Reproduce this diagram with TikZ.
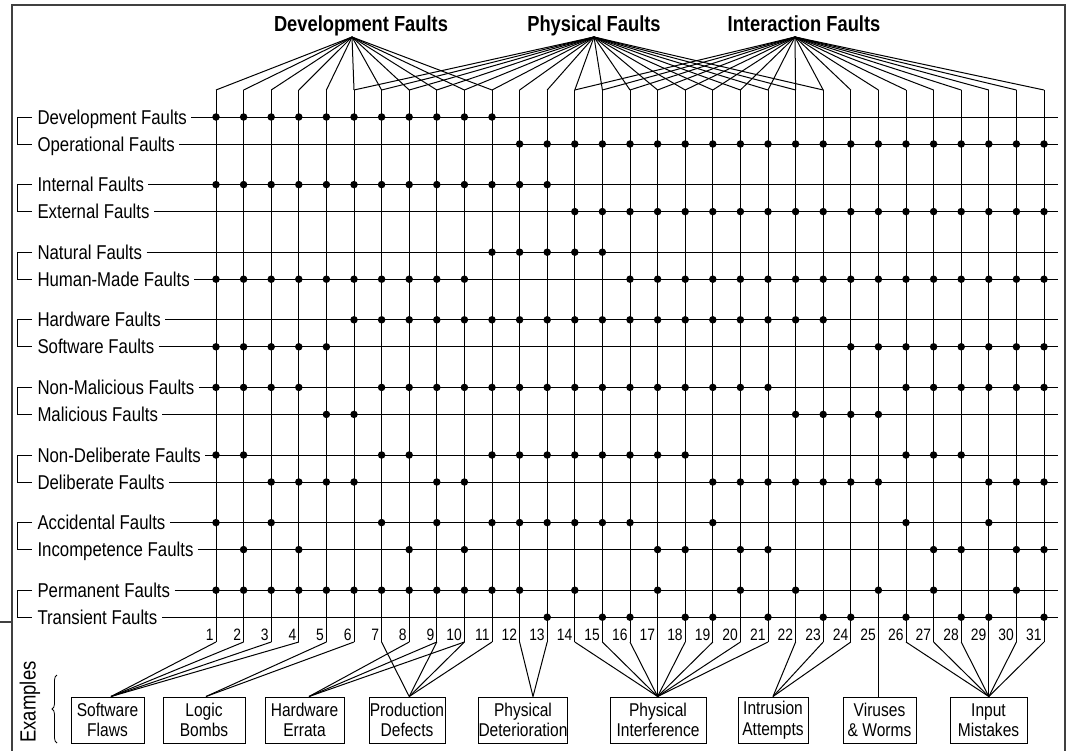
\documentclass[tikz,border=0pt]{standalone}
\usepackage{fontspec}
\setmainfont{Liberation Sans}[FakeStretch=0.84]
\usetikzlibrary{decorations.pathreplacing,calc}
\begin{document}
\begin{tikzpicture}[x=1pt,y=-1pt,line width=1pt,
  lbl/.style={anchor=base west,inner sep=0pt,font=\fontsize{20}{22}\selectfont},
  ttl/.style={anchor=base,inner sep=0pt,font=\bfseries\fontsize{21.8}{24}\selectfont},
  num/.style={anchor=base east,inner sep=0pt,font=\fontsize{16.5}{18}\selectfont},
  exbox/.style={draw,line width=1pt,align=center,inner sep=0pt,minimum height=46pt,font=\fontsize{18.5}{20.5}\selectfont},
  dot/.style={circle,fill,inner sep=0pt,minimum size=7.5pt},
  frameline/.style={line width=1.6pt,black!75}]
\useasboundingbox (0,0) rectangle (1070,750);

% frame
\draw[frameline] (12,752) -- (12,5) -- (1065,5) -- (1065,752);
\draw[frameline] (0,622) -- (12,622);

% titles and apexes
\node[ttl] (tD) at (361,31) {Development Faults};
\node[ttl] (tP) at (594,31) {Physical Faults};
\node[ttl] (tI) at (804,31) {Interaction Faults};
\coordinate (aD) at (352,37);
\coordinate (aP) at (594,37);
\coordinate (aI) at (795,37);

% column coordinates
\foreach \c in {1,...,31} {
  \pgfmathsetmacro\xx{216+27.6*(\c-1)}
  \coordinate (t\c) at (\xx,90);
  \coordinate (b\c) at (\xx,642);
}

% rows
\foreach \r/\yy/\txt in {
  1/117/Development Faults, 2/144/Operational Faults,
  3/184.6/Internal Faults, 4/211.6/External Faults,
  5/252.2/Natural Faults, 6/279.2/Human-Made Faults,
  7/319.8/Hardware Faults, 8/346.8/Software Faults,
  9/387.4/Non-Malicious Faults, 10/414.4/Malicious Faults,
  11/455/Non-Deliberate Faults, 12/482/Deliberate Faults,
  13/522.6/Accidental Faults, 14/549.6/Incompetence Faults,
  15/590.2/Permanent Faults, 16/617.2/Transient Faults} {
  \coordinate (r\r) at (216,\yy);
  \coordinate (re\r) at (1058,\yy);
  \node[lbl] (l\r) at (37,\yy+7) {\txt};
  \draw (l\r.east |- r\r) ++(4,0) -- (re\r);
}

% brackets
\foreach \g in {0,...,7} {
  \pgfmathsetmacro\ya{117+67.6*\g}
  \pgfmathsetmacro\yb{\ya+27}
  \draw (32,\ya) -- (17,\ya) -- (17,\yb) -- (32,\yb);
}

% fans
\foreach \c in {1,...,11} \draw (aD) -- (t\c);
\foreach \c in {6,...,23} \draw (aP) -- (t\c);
\foreach \c in {14,...,31} \draw (aI) -- (t\c);

% verticals and numbers
\foreach \c in {1,...,31} {
  \draw (t\c) -- (b\c);
  \node[num] (n\c) at ([xshift=-2pt,yshift=2pt]b\c) {\c};
}

% dots
\foreach \r/\cols in {
 1/{1,2,3,4,5,6,7,8,9,10,11},
 2/{12,13,14,15,16,17,18,19,20,21,22,23,24,25,26,27,28,29,30,31},
 3/{1,2,3,4,5,6,7,8,9,10,11,12,13},
 4/{14,15,16,17,18,19,20,21,22,23,24,25,26,27,28,29,30,31},
 5/{11,12,13,14,15},
 6/{1,2,3,4,5,6,7,8,9,10,16,17,18,19,20,21,22,23,24,25,26,27,28,29,30,31},
 7/{6,7,8,9,10,11,12,13,14,15,16,17,18,19,20,21,22,23},
 8/{1,2,3,4,5,24,25,26,27,28,29,30,31},
 9/{1,2,3,4,7,8,9,10,11,12,13,14,15,16,17,18,19,20,21,26,27,28,29,30,31},
 10/{5,6,22,23,24,25},
 11/{1,2,7,8,11,12,13,14,15,16,17,18,26,27,28},
 12/{3,4,5,6,9,10,19,20,21,22,23,24,25,29,30,31},
 13/{1,3,7,9,11,12,13,14,15,16,19,26,29},
 14/{2,4,8,10,17,18,20,21,27,28,30,31},
 15/{1,2,3,4,5,6,7,8,9,10,11,12,14,17,20,22,25,27,30},
 16/{13,15,16,18,19,21,23,24,26,28,29,31}} {
  \foreach \c in \cols { \node[dot] (d\r-\c) at (t\c |- r\r) {}; }
}

% example boxes
\node[exbox,minimum width=73pt] (sf) at (107.5,720) {Software\\Flaws};
\node[exbox,minimum width=82pt] (lb) at (204,720) {Logic\\Bombs};
\node[exbox,minimum width=79pt] (he) at (304.5,720) {Hardware\\Errata};
\node[exbox,minimum width=76pt] (pd) at (407,720) {Production\\Defects};
\node[exbox,minimum width=88pt] (pdt) at (523,720) {Physical\\Deterioration};
\node[exbox,minimum width=96pt] (pi) at (658,720) {Physical\\Interference};
\node[exbox,minimum width=70pt] (ia) at (773,720) {Intrusion\\Attempts};
\node[exbox,minimum width=73pt] (vw) at (879.5,720) {Viruses\\\& Worms};
\node[exbox,minimum width=77pt] (im) at (988.5,720) {Input\\Mistakes};

% bottom connectors
\foreach \c in {1,2,3,4} \draw (b\c) -- ([xshift=3.5pt]sf.north);
\foreach \c in {5,6} \draw (b\c) -- ([xshift=2pt]lb.north);
\foreach \c in {8,9,10} \draw (b\c) -- ([xshift=4.5pt]he.north);
\foreach \c in {7,9,10,11} \draw (b\c) -- (pd.north -| b8);
\foreach \c in {12,13} \draw (b\c) -- ([xshift=10pt]pdt.north);
\foreach \c in {14,...,21} \draw (b\c) -- (pi.north -| b17);
\foreach \c in {22,23,24} \draw (b\c) -- (ia.north);
\draw (b25) -- (vw.north -| b25);
\foreach \c in {26,...,31} \draw (b\c) -- (im.north -| b29);

% examples label and brace
\node[rotate=90,inner sep=0pt,font=\fontsize{22}{24}\selectfont] (ex) at (30,702) {Examples};
\draw[decorate,decoration={brace,amplitude=5pt},line width=0.8pt] (57,743) -- (57,675);
\end{tikzpicture}
\end{document}
